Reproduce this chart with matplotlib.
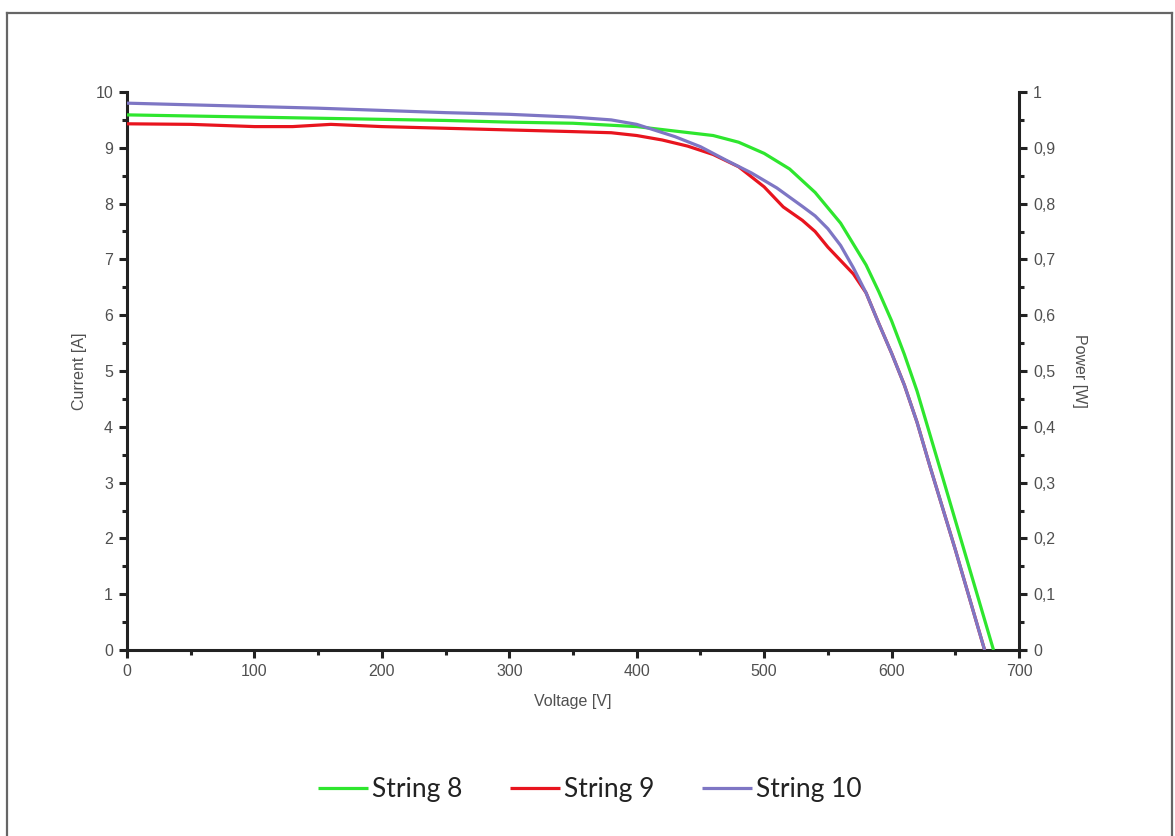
import matplotlib
matplotlib.use("Agg")
import matplotlib.pyplot as plt
from matplotlib.lines import Line2D
from matplotlib.ticker import MultipleLocator, FixedLocator, FixedFormatter

# I-V characteristics of three PV strings
string8_voltage = [0, 50, 100, 150, 200, 250, 300, 350, 400, 430, 460, 480, 500,
                   520, 540, 560, 580, 590, 600, 610, 620, 640, 660, 680]
string8_current = [9.59, 9.57, 9.55, 9.53, 9.51, 9.49, 9.46, 9.44, 9.38, 9.30, 9.22,
                   9.10, 8.90, 8.62, 8.20, 7.65, 6.90, 6.42, 5.90, 5.30, 4.64, 3.10,
                   1.55, 0.0]

string9_voltage = [0, 50, 100, 130, 160, 200, 250, 300, 350, 380, 400, 420, 440, 460,
                   480, 500, 515, 530, 540, 550, 560, 570, 580, 590, 600, 610, 620,
                   630, 650, 673]
string9_current = [9.43, 9.42, 9.38, 9.38, 9.42, 9.38, 9.35, 9.32, 9.29, 9.27, 9.22,
                   9.14, 9.03, 8.88, 8.66, 8.30, 7.94, 7.70, 7.50, 7.22, 6.98, 6.74,
                   6.40, 5.85, 5.32, 4.75, 4.08, 3.30, 1.80, 0.0]

string10_voltage = [0, 50, 100, 150, 200, 250, 300, 350, 380, 400, 430, 450, 470, 490,
                    510, 530, 540, 550, 560, 570, 580, 590, 600, 610, 620, 630, 650, 673]
string10_current = [9.80, 9.77, 9.74, 9.71, 9.67, 9.63, 9.60, 9.55, 9.50, 9.42, 9.20,
                    9.02, 8.78, 8.55, 8.28, 7.95, 7.78, 7.55, 7.25, 6.85, 6.40, 5.85,
                    5.32, 4.75, 4.08, 3.30, 1.80, 0.0]

series_names = ["String 8", "String 9", "String 10"]
series_colors = ["#2ee62e", "#e8141e", "#7e76c4"]

power_ticks = [0, 0.1, 0.2, 0.3, 0.4, 0.5, 0.6, 0.7, 0.8, 0.9, 1.0]
power_labels = ["0", "0,1", "0,2", "0,3", "0,4", "0,5", "0,6", "0,7", "0,8", "0,9", "1"]

W, H = 1175, 836
fig = plt.figure(figsize=(W / 100, H / 100), dpi=100)
fig.patch.set_facecolor("white")

ax = fig.add_axes([127 / W, 1 - 650 / H, (1019 - 127) / W, (650 - 92) / H])

text_color = "#505050"
spine_color = "#222222"
fsize = 11.5
label_font = dict(family="Liberation Sans", size=fsize, color=text_color)

lines = []
for v, i, name, col in zip(
        [string8_voltage, string9_voltage, string10_voltage],
        [string8_current, string9_current, string10_current],
        series_names, series_colors):
    ln, = ax.plot(v, i, color=col, lw=2.3, label=name, solid_capstyle="butt",
                  solid_joinstyle="round", zorder=3)
    lines.append(ln)

ax.set_xlim(0, 700)
ax.set_ylim(0, 10)
ax.xaxis.set_major_locator(MultipleLocator(100))
ax.xaxis.set_minor_locator(MultipleLocator(50))
ax.yaxis.set_major_locator(MultipleLocator(1))
ax.yaxis.set_minor_locator(MultipleLocator(0.5))

ax2 = ax.twinx()
ax2.set_ylim(0, 1)
ax2.yaxis.set_major_locator(FixedLocator(power_ticks))
ax2.yaxis.set_major_formatter(FixedFormatter(power_labels))
ax2.yaxis.set_minor_locator(MultipleLocator(0.05))

for a in (ax, ax2):
    a.spines["top"].set_visible(False)
    for s in a.spines.values():
        s.set_color(spine_color)
        s.set_linewidth(2.2)
    a.tick_params(which="major", direction="out", length=6, width=2.2,
                  color=spine_color, labelcolor=text_color, labelsize=fsize, pad=4)
    a.tick_params(which="minor", direction="out", length=3.5, width=2.2,
                  color=spine_color)
    for lab in a.get_xticklabels() + a.get_yticklabels():
        lab.set_family("Liberation Sans")
ax2.spines["left"].set_visible(False)
ax2.spines["bottom"].set_visible(False)
ax.spines["right"].set_visible(False)

ax.set_xlabel("Voltage [V]", fontdict=label_font, labelpad=11)
ax.set_ylabel("Current [A]", fontdict=label_font, labelpad=6)
ax2.set_ylabel("Power [W]", fontdict=label_font, rotation=270, labelpad=12, va="bottom")

fig.legend(handles=lines, labels=series_names, loc="center",
           bbox_to_anchor=(590 / W, 1 - 790 / H), ncol=3, frameon=False,
           prop=dict(family="Lato", size=19), handlelength=1.9, handletextpad=0.15,
           columnspacing=1.8, labelcolor="#222222")

# outer frame around the whole chart
frame_kw = dict(transform=fig.transFigure, color="#666666", lw=1.6)
fig.add_artist(Line2D([7 / W, 7 / W], [0, 1 - 13 / H], **frame_kw))
fig.add_artist(Line2D([7 / W, 1172 / W], [1 - 13 / H, 1 - 13 / H], **frame_kw))
fig.add_artist(Line2D([1172 / W, 1172 / W], [0, 1 - 13 / H], **frame_kw))

fig.savefig("out.png", dpi=100, facecolor="white")
